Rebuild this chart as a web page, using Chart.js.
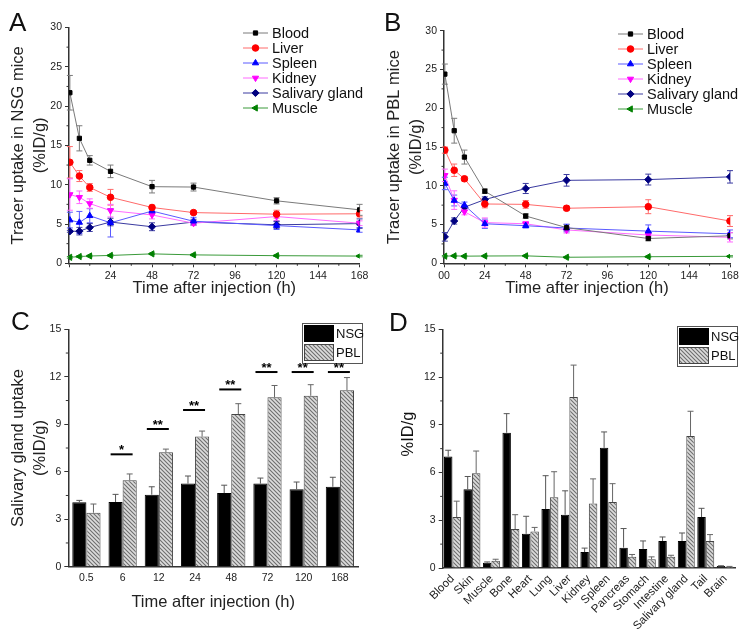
<!DOCTYPE html>
<html>
<head>
<meta charset="utf-8">
<script src="https://cdn.jsdelivr.net/npm/chart.js@4.4.0/dist/chart.umd.min.js"></script>
<style>
  body { margin: 0; background: #fff; width: 751px; height: 632px; position: relative; overflow: hidden; }
  canvas { position: absolute; }
</style>
</head>
<body>
<canvas id="cA" width="375" height="300" style="left:0;top:0"></canvas>
<canvas id="cB" width="376" height="300" style="left:375px;top:0"></canvas>
<canvas id="cC" width="375" height="332" style="left:0;top:300px"></canvas>
<canvas id="cD" width="376" height="332" style="left:375px;top:300px"></canvas>
<script>
// ---- data (%ID/g) ----
const hours = [0.5, 6, 12, 24, 48, 72, 120, 168];
const organs = ['Blood', 'Liver', 'Spleen', 'Kidney', 'Salivary gland', 'Muscle'];
const xTicksA = ['', '24', '48', '72', '96', '120', '144', '168'];
const xTicksB = ['00', '24', '48', '72', '96', '120', '144', '168'];

// NSG mice (A)
const nsgBlood = [21.7, 15.9, 13.1, 11.7, 9.75, 9.7, 7.95, 6.8];
const nsgBloodErr = [2.2, 1.6, 0.6, 0.8, 0.8, 0.5, 0.4, 0.7];
const nsgLiver = [12.85, 11.1, 9.65, 8.4, 7.1, 6.45, 6.25, 6.3];
const nsgLiverErr = [2.0, 0.7, 0.5, 1.0, 0.3, 0.2, 0.5, 0.4];
const nsgSpleen = [5.5, 5.2, 6.05, 5.15, 6.65, 5.35, 4.8, 4.25];
const nsgSpleenErr = [1.0, 1.4, 0.9, 1.8, 0.4, 0.5, 0.5, 0.3];
const nsgKidney = [8.75, 8.4, 7.6, 6.7, 6.15, 5.1, 5.95, 5.1];
const nsgKidneyErr = [2.0, 0.8, 0.6, 0.8, 0.5, 0.3, 0.5, 0.3];
const nsgSalivary = [4.07, 4.09, 4.55, 5.25, 4.65, 5.25, 4.9, 5.05];
const nsgSalivaryErr = [0.12, 0.48, 0.5, 0.48, 0.5, 0.35, 0.45, 0.6];
const nsgMuscle = [0.76, 0.86, 0.93, 1.0, 1.2, 1.07, 0.97, 0.92];
const nsgMuscleErr = [0.1, 0.1, 0.1, 0.1, 0.1, 0.1, 0.1, 0.1];

// PBL mice (B)
const pblBlood = [24.4, 17.1, 13.7, 9.3, 6.1, 4.6, 3.2, 3.55];
const pblBloodErr = [1.3, 1.6, 0.9, 0.3, 0.3, 0.4, 0.3, 0.4];
const pblLiver = [14.6, 12.0, 10.9, 7.65, 7.6, 7.1, 7.3, 5.45];
const pblLiverErr = [0.4, 0.8, 0.3, 0.5, 0.5, 0.3, 0.9, 0.7];
const pblSpleen = [10.3, 8.1, 7.5, 5.1, 4.85, 4.55, 4.15, 3.8];
const pblSpleenErr = [0.8, 0.7, 0.4, 0.6, 0.3, 0.5, 0.8, 0.5];
const pblKidney = [11.35, 8.15, 6.65, 5.25, 5.1, 4.3, 3.65, 3.35];
const pblKidneyErr = [0.8, 1.2, 0.4, 0.6, 0.3, 0.4, 0.4, 0.6];
const pblSalivary = [3.41, 5.46, 7.23, 8.22, 9.65, 10.7, 10.8, 11.15];
const pblSalivaryErr = [0.55, 0.4, 0.2, 0.35, 0.65, 0.75, 0.7, 0.8];
const pblMuscle = [0.92, 0.96, 0.92, 0.94, 0.96, 0.78, 0.85, 0.9];
const pblMuscleErr = [0.08, 0.08, 0.08, 0.08, 0.08, 0.08, 0.08, 0.08];

// C: salivary gland, significance marks
const timeLabels = ['0.5', '6', '12', '24', '48', '72', '120', '168'];
const sigLevel = [null, 7.1, 8.7, 9.9, 11.2, 12.3, 12.3, 12.3];
const sigMark = ['', '*', '**', '**', '**', '**', '**', '**'];

// D: biodistribution
const tissues = ['Blood', 'Skin', 'Muscle', 'Bone', 'Heart', 'Lung', 'Liver', 'Kidney', 'Spleen',
  'Pancreas', 'Stomach', 'Intestine', 'Salivary gland', 'Tail', 'Brain'];
const nsgTissue = [7.0, 4.95, 0.33, 8.5, 2.15, 3.7, 3.35, 1.0, 7.55, 1.28, 1.2, 1.7, 1.7, 3.2, 0.12];
const nsgTissueErr = [0.4, 0.8, 0.05, 1.2, 1.1, 2.1, 1.5, 0.25, 1.0, 1.2, 0.5, 0.25, 0.5, 0.55, 0.02];
const pblTissue = [3.2, 5.95, 0.45, 2.45, 2.3, 4.45, 10.75, 4.05, 4.15, 0.7, 0.55, 0.7, 8.3, 1.7, 0.08];
const pblTissueErr = [1.0, 1.4, 0.1, 0.9, 0.25, 1.6, 2.0, 1.55, 1.15, 0.15, 0.15, 0.1, 1.55, 0.4, 0.02];

// ---- styles ----
const FONT = '"Liberation Sans", Arial, sans-serif';
Chart.defaults.font.family = FONT;
Chart.defaults.color = '#222';
const markerColors = ['#000000', '#ff0000', '#0000ff', '#ff00ff', '#000080', '#008000'];
const lineColors = ['#7a7a7a', '#ff6a6a', '#5a5aff', '#ff6aff', '#3a3aa0', '#3a9a3a'];
const markerStyles = ['rect', 'circle', 'triangle', 'triangle', 'rectRot', 'triangle'];
const markerRot = [0, 0, 0, 180, 0, 270];
const markerSize = [3, 3.3, 3.6, 3.6, 3.6, 3.6];

// hatched fill for PBL bars
function hatch() {
  const c = document.createElement('canvas');
  c.width = 4; c.height = 4;
  const g = c.getContext('2d');
  g.fillStyle = '#dcdcdc';
  g.fillRect(0, 0, 4, 4);
  g.strokeStyle = '#6e6e6e';
  g.lineWidth = 1.1;
  g.beginPath();
  g.moveTo(0, 0); g.lineTo(4, 4);
  g.moveTo(-1, 3); g.lineTo(1, 5);
  g.moveTo(3, -1); g.lineTo(5, 1);
  g.stroke();
  return c.getContext('2d').createPattern(c, 'repeat');
}
const pblFill = hatch();

// ---- plugins ----
function drawErr(chart) {
  const ctx = chart.ctx, ys = chart.scales.y;
  chart.data.datasets.forEach((ds, i) => {
    if (!ds.errs) return;
    const meta = chart.getDatasetMeta(i);
    ctx.save();
    ctx.strokeStyle = ds.errColor;
    ctx.lineWidth = 1;
    meta.data.forEach((el, j) => {
      const d = ds.data[j];
      const v = typeof d === 'object' ? d.y : d;
      const e = ds.errs[j];
      const top = ys.getPixelForValue(v + e);
      const bot = ds.upOnly ? el.y : ys.getPixelForValue(v - e);
      const w = ds.capHalf || 3;
      ctx.beginPath();
      ctx.moveTo(el.x, top); ctx.lineTo(el.x, bot);
      ctx.moveTo(el.x - w, top); ctx.lineTo(el.x + w, top);
      if (!ds.upOnly) { ctx.moveTo(el.x - w, bot); ctx.lineTo(el.x + w, bot); }
      ctx.stroke();
    });
    ctx.restore();
  });
}
const errorBars = {
  id: 'errorBars',
  beforeDatasetsDraw(chart) { if (chart.config.type === 'line') drawErr(chart); },
  afterDatasetsDraw(chart) { if (chart.config.type === 'bar') drawErr(chart); }
};

// short minor ticks halfway between the labelled ones
function minorTicks(xStep, yStep) {
  return {
    id: 'minorTicks',
    afterDraw(chart) {
      const ctx = chart.ctx, area = chart.chartArea;
      ctx.save();
      ctx.strokeStyle = '#333';
      ctx.lineWidth = 1;
      ctx.beginPath();
      if (xStep) {
        const s = chart.scales.x;
        for (let v = s.min + xStep; v < s.max; v += 2 * xStep) {
          const p = s.getPixelForValue(v);
          ctx.moveTo(p, area.bottom); ctx.lineTo(p, area.bottom + 2.5);
        }
      }
      if (yStep) {
        const s = chart.scales.y;
        for (let v = s.min + yStep; v < s.max; v += 2 * yStep) {
          const p = s.getPixelForValue(v);
          ctx.moveTo(area.left, p); ctx.lineTo(area.left - 2.5, p);
        }
      }
      ctx.stroke();
      ctx.restore();
    }
  };
}

// free text: panel letters etc.
function notes(list) {
  return {
    id: 'notes',
    afterDraw(chart) {
      const ctx = chart.ctx;
      list.forEach(n => {
        ctx.save();
        ctx.font = n.font;
        ctx.fillStyle = '#111';
        ctx.textAlign = n.align || 'left';
        ctx.textBaseline = 'middle';
        ctx.translate(n.x, n.y);
        if (n.rotate) ctx.rotate(n.rotate);
        ctx.fillText(n.text, 0, 0);
        ctx.restore();
      });
    }
  };
}

// legend with line + marker samples (A, B)
function lineLegend(x, y0, dy) {
  return {
    id: 'lineLegend',
    afterDraw(chart) {
      const ctx = chart.ctx;
      chart.data.datasets.forEach((ds, i) => {
        const y = y0 + i * dy;
        ctx.save();
        ctx.strokeStyle = ds.borderColor;
        ctx.lineWidth = 1;
        ctx.beginPath();
        ctx.moveTo(x, y); ctx.lineTo(x + 25, y);
        ctx.stroke();
        ctx.fillStyle = ds.pointBackgroundColor;
        ctx.strokeStyle = ds.pointBorderColor;
        Chart.helpers.drawPoint(ctx, {
          pointStyle: ds.pointStyle, rotation: ds.pointRotation,
          radius: ds.pointRadius, borderWidth: 1
        }, x + 12.5, y);
        ctx.fillStyle = '#111';
        ctx.font = '14.5px ' + FONT;
        ctx.textBaseline = 'middle';
        ctx.fillText(ds.label, x + 29, y + 1);
        ctx.restore();
      });
    }
  };
}

// boxed legend with fill swatches (C, D)
function boxLegend(x, y, w, rowH, swW) {
  return {
    id: 'boxLegend',
    afterDraw(chart) {
      const ctx = chart.ctx;
      const n = chart.data.datasets.length;
      ctx.save();
      ctx.strokeStyle = '#555';
      ctx.lineWidth = 1;
      ctx.fillStyle = '#fff';
      ctx.fillRect(x, y, w, rowH * n + 2);
      ctx.strokeRect(x + 0.5, y + 0.5, w, rowH * n + 2);
      chart.data.datasets.forEach((ds, i) => {
        const ry = y + 2 + i * rowH;
        ctx.fillStyle = ds.backgroundColor;
        ctx.fillRect(x + 2, ry, swW, rowH - 2);
        ctx.strokeStyle = ds.borderColor;
        ctx.strokeRect(x + 2.5, ry + 0.5, swW - 1, rowH - 3);
        ctx.fillStyle = '#111';
        ctx.font = '13px ' + FONT;
        ctx.textBaseline = 'middle';
        ctx.fillText(ds.label, x + swW + 4, ry + rowH / 2);
      });
      ctx.restore();
    }
  };
}

// significance bars over each time point (C)
const sigBars = {
  id: 'sigBars',
  afterDraw(chart) {
    const ctx = chart.ctx, xs = chart.scales.x, ys = chart.scales.y;
    ctx.save();
    ctx.strokeStyle = '#000';
    ctx.fillStyle = '#000';
    ctx.lineWidth = 2;
    ctx.font = 'bold 13px ' + FONT;
    ctx.textAlign = 'center';
    ctx.textBaseline = 'middle';
    sigLevel.forEach((lv, i) => {
      if (lv == null) return;
      const cx = xs.getPixelForValue(i) - 1;
      const py = ys.getPixelForValue(lv);
      ctx.beginPath();
      ctx.moveTo(cx - 11, py); ctx.lineTo(cx + 11, py);
      ctx.stroke();
      ctx.fillText(sigMark[i], cx, py - 4);
    });
    ctx.restore();
  }
};

function axis(extra) {
  return Object.assign({
    border: { display: true, color: '#333', width: 1.5 },
    grid: { drawOnChartArea: false, drawTicks: true, tickLength: 4, tickColor: '#333', tickWidth: 1 },
    ticks: { font: { size: 10.5 }, color: '#222', padding: 3 }
  }, extra);
}

// ---- A, B: time-activity curves ----
function curveChart(id, series, errs, yTitle, xTicks, pad, yTitlePad, letter, legendY) {
  const datasets = series.map((vals, k) => ({
    label: organs[k],
    data: vals.map((v, j) => ({ x: hours[j], y: v })),
    errs: errs[k],
    errColor: lineColors[k],
    capHalf: 3,
    borderColor: lineColors[k],
    borderWidth: 1,
    pointBackgroundColor: markerColors[k],
    pointBorderColor: markerColors[k],
    pointStyle: markerStyles[k],
    pointRotation: markerRot[k],
    pointRadius: markerSize[k],
    tension: 0,
    fill: false
  }));
  new Chart(document.getElementById(id), {
    type: 'line',
    data: { datasets },
    options: {
      responsive: false,
      animation: false,
      layout: { padding: pad },
      plugins: { legend: { display: false }, tooltip: { enabled: false } },
      scales: {
        x: axis({
          type: 'linear', min: 0, max: 168,
          ticks: { font: { size: 10.5 }, color: '#222', padding: 3, stepSize: 24,
            callback: (v, i) => xTicks[i] },
          title: { display: true, text: 'Time after injection (h)', font: { size: 16.5 }, padding: { top: 0, bottom: 2 } },
          afterFit: s => { s.height = 36.7; }
        }),
        y: axis({
          min: 0, max: 30,
          ticks: { font: { size: 10.5 }, color: '#222', padding: 3, stepSize: 5 },
          title: { display: true, text: yTitle, font: { size: 16.5, lineHeight: 1.3 }, padding: { top: yTitlePad, bottom: 0 } },
          afterFit: s => { s.width = 69; }
        })
      }
    },
    plugins: [errorBars, minorTicks(12, 2.5), lineLegend(243, legendY, 15),
      notes([{ text: letter, x: 9, y: 24, font: '26px ' + FONT }])]
  });
}

curveChart('cA',
  [nsgBlood, nsgLiver, nsgSpleen, nsgKidney, nsgSalivary, nsgMuscle],
  [nsgBloodErr, nsgLiverErr, nsgSpleenErr, nsgKidneyErr, nsgSalivaryErr, nsgMuscleErr],
  ['Tracer uptake in NSG mice', '(%ID/g)'], xTicksA,
  { left: 0, top: 27.5, right: 15.4, bottom: 0 }, 8, 'A', 33);

curveChart('cB',
  [pblBlood, pblLiver, pblSpleen, pblKidney, pblSalivary, pblMuscle],
  [pblBloodErr, pblLiverErr, pblSpleenErr, pblKidneyErr, pblSalivaryErr, pblMuscleErr],
  ['Tracer uptake in PBL mice', '(%ID/g)'], xTicksB,
  { left: 0, top: 30.7, right: 21, bottom: 0 }, 9, 'B', 34);

// ---- C, D: bar charts ----
function barChart(id, labels, nsg, nsgErr, pbl, pblErr, opt) {
  new Chart(document.getElementById(id), {
    type: 'bar',
    data: {
      labels,
      datasets: [
        { label: 'NSG', data: nsg, errs: nsgErr, upOnly: true, errColor: '#555', capHalf: 3,
          backgroundColor: '#000', borderColor: '#000', borderWidth: 1,
          categoryPercentage: opt.cat, barPercentage: 1 },
        { label: 'PBL', data: pbl, errs: pblErr, upOnly: true, errColor: '#666', capHalf: 3,
          backgroundColor: pblFill, borderColor: '#444', borderWidth: 1,
          categoryPercentage: opt.cat, barPercentage: 1 }
      ]
    },
    options: {
      responsive: false,
      animation: false,
      layout: { padding: opt.pad },
      plugins: { legend: { display: false }, tooltip: { enabled: false } },
      scales: {
        x: axis({
          grid: { drawOnChartArea: false, drawTicks: false },
          ticks: { font: { size: opt.xFont }, color: '#222', padding: opt.xPad, autoSkip: false,
            minRotation: opt.rot, maxRotation: opt.rot },
          title: opt.xTitle ? { display: true, text: opt.xTitle, font: { size: 16.5 }, padding: { top: 0, bottom: 20 } } : { display: false },
          afterFit: s => { s.height = opt.xH; }
        }),
        y: axis({
          min: 0, max: 15,
          ticks: { font: { size: 10.5 }, color: '#222', padding: 3, stepSize: 3 },
          title: opt.yTitle ? { display: true, text: opt.yTitle, font: { size: 16.5, lineHeight: 1.3 }, padding: { top: 8, bottom: 0 } } : { display: false },
          afterFit: s => { s.width = opt.yW; }
        })
      }
    },
    plugins: [errorBars, minorTicks(0, 1.5), boxLegend(opt.leg[0], opt.leg[1], 60, 19, 30),
      notes(opt.notes)].concat(opt.extra || [])
  });
}

barChart('cC', timeLabels, nsgSalivary, nsgSalivaryErr, pblSalivary, pblSalivaryErr, {
  cat: 0.78, pad: { left: 0, top: 29.3, right: 17, bottom: 0 }, xH: 65.3, yW: 68.3,
  xFont: 10.5, xPad: 5, rot: 0, xTitle: 'Time after injection (h)',
  yTitle: ['Salivary gland uptake', '(%ID/g)'], leg: [302, 23],
  notes: [{ text: 'C', x: 11, y: 23, font: '26px ' + FONT }],
  extra: [sigBars]
});

barChart('cD', tissues, nsgTissue, nsgTissueErr, pblTissue, pblTissueErr, {
  cat: 0.87, pad: { left: 0, top: 29.3, right: 16, bottom: 0 }, xH: 64, yW: 67.7,
  xFont: 11.5, xPad: 4, rot: 45, xTitle: null, yTitle: null, leg: [302, 26],
  notes: [{ text: 'D', x: 14, y: 24, font: '26px ' + FONT },
    { text: '%ID/g', x: 33, y: 134, font: '16.5px ' + FONT, align: 'center', rotate: -Math.PI / 2 }]
});
</script>
</body>
</html>
